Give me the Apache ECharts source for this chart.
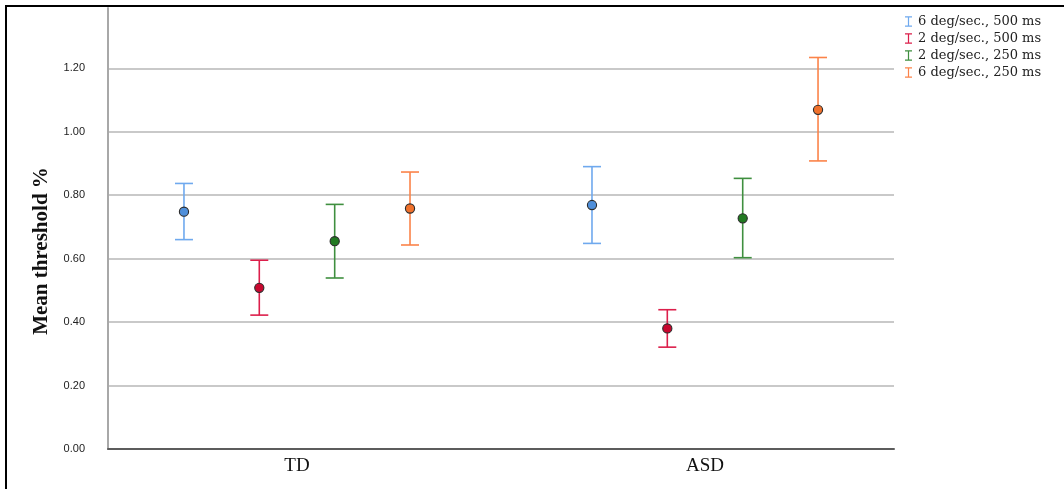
<!DOCTYPE html>
<html>
<head>
<meta charset="utf-8">
<script src="https://cdn.jsdelivr.net/npm/echarts@6/dist/echarts.min.js"></script>
<style>
  html, body { margin: 0; padding: 0; background: #fff; }
  #chart { width: 1064px; height: 489px; }
</style>
</head>
<body>
<div id="chart"></div>
<script>
// Groups on the horizontal axis
const groups = ['TD', 'ASD'];

// Conditions (one error-bar series each)
const conditions = ['6 deg/sec., 500 ms', '2 deg/sec., 500 ms', '2 deg/sec., 250 ms', '6 deg/sec., 250 ms'];

// Mean threshold per condition, one value per group [TD, ASD]
const mean_6_500 = [0.748, 0.769];
const mean_2_500 = [0.508, 0.380];
const mean_2_250 = [0.655, 0.727];
const mean_6_250 = [0.758, 1.069];

// Lower error-bar ends
const low_6_500 = [0.660, 0.648];
const low_2_500 = [0.422, 0.321];
const low_2_250 = [0.539, 0.603];
const low_6_250 = [0.643, 0.908];

// Upper error-bar ends
const high_6_500 = [0.837, 0.890];
const high_2_500 = [0.595, 0.439];
const high_2_250 = [0.771, 0.853];
const high_6_250 = [0.873, 1.234];

// Y axis title
const yTitle = 'Mean threshold %';

const means = [mean_6_500, mean_2_500, mean_2_250, mean_6_250];
const lows = [low_6_500, low_2_500, low_2_250, low_6_250];
const highs = [high_6_500, high_2_500, high_2_250, high_6_250];

// Styling per condition: bar colour and marker fill
const barColors = ['#6fa9ee', '#dc1f4b', '#3f8f3f', '#fb8349'];
const dotColors = ['#4f8fda', '#c8072f', '#217a21', '#f0712c'];
// Horizontal dodge of each condition inside a group (axis units)
const dodge = [-0.277, -0.0924, 0.0924, 0.277];

const iconPath = 'path://M0,0 L8,0 L8,1.4 L4.7,1.4 L4.7,10.6 L8,10.6 L8,12 L0,12 L0,10.6 L3.3,10.6 L3.3,1.4 L0,1.4 Z';

const series = conditions.map((name, k) => ({
  name: name,
  type: 'custom',
  itemStyle: { color: barColors[k] },
  data: groups.map((g, i) => [i, means[k][i], lows[k][i], highs[k][i]]),
  renderItem: function (params, api) {
    const xi = api.value(0) + dodge[k];
    const pMean = api.coord([xi, api.value(1)]);
    const pLow = api.coord([xi, api.value(2)]);
    const pHigh = api.coord([xi, api.value(3)]);
    const half = 9;
    const lineStyle = { stroke: barColors[k], lineWidth: 1.6 };
    return {
      type: 'group',
      children: [
        { type: 'line', shape: { x1: pLow[0], y1: pLow[1], x2: pHigh[0], y2: pHigh[1] }, style: lineStyle },
        { type: 'line', shape: { x1: pLow[0] - half, y1: pLow[1], x2: pLow[0] + half, y2: pLow[1] }, style: lineStyle },
        { type: 'line', shape: { x1: pHigh[0] - half, y1: pHigh[1], x2: pHigh[0] + half, y2: pHigh[1] }, style: lineStyle },
        { type: 'circle', shape: { cx: pMean[0], cy: pMean[1], r: 4.6 },
          style: { fill: dotColors[k], stroke: '#2b2b2b', lineWidth: 1.1 } }
      ]
    };
  }
}));

const chart = echarts.init(document.getElementById('chart'));
chart.setOption({
  backgroundColor: '#ffffff',
  animation: false,
  grid: { left: 108, right: 170, top: 8, bottom: 40, containLabel: false },
  legend: {
    orient: 'vertical',
    left: 900,
    top: 10,
    itemWidth: 7,
    itemHeight: 12,
    itemGap: 4,
    icon: iconPath,
    data: conditions,
    textStyle: { fontFamily: 'DejaVu Serif', fontSize: 13, color: '#222', padding: [0, 0, 0, 1] }
  },
  xAxis: {
    type: 'value',
    min: -0.4632,
    max: 1.4632,
    splitLine: { show: false },
    axisTick: { show: false },
    axisLine: { show: true, onZero: false, lineStyle: { color: '#5c5c5c', width: 2 } },
    axisLabel: {
      customValues: [0, 1],
      formatter: v => groups[Math.round(v)] || '',
      margin: 8,
      fontFamily: 'Liberation Serif',
      fontSize: 19,
      color: '#111'
    }
  },
  yAxis: {
    type: 'value',
    min: 0,
    max: 1.39,
    interval: 0.2,
    axisLine: { show: true, onZero: false, lineStyle: { color: '#a8a8a8', width: 2 } },
    axisTick: { show: false },
    splitLine: { show: true, showMaxLine: false, lineStyle: { color: '#c9c9c9', width: 2 } },
    axisLabel: {
      showMaxLabel: false,
      margin: 23,
      fontFamily: 'Liberation Sans',
      fontSize: 11,
      color: '#222',
      formatter: v => v.toFixed(2)
    }
  },
  graphic: [
    { type: 'rect', left: 5, top: 5, shape: { width: 1059, height: 2 }, style: { fill: '#000' }, z: 100 },
    { type: 'rect', left: 5, top: 5, shape: { width: 2, height: 484 }, style: { fill: '#000' }, z: 100 },
    { type: 'text', x: 42, y: 251, rotation: Math.PI / 2,
      style: { text: yTitle, fontFamily: 'Liberation Serif', fontWeight: 'bold', fontSize: 21,
               fill: '#111', align: 'center', verticalAlign: 'middle' } }
  ],
  series: series
});
</script>
</body>
</html>
